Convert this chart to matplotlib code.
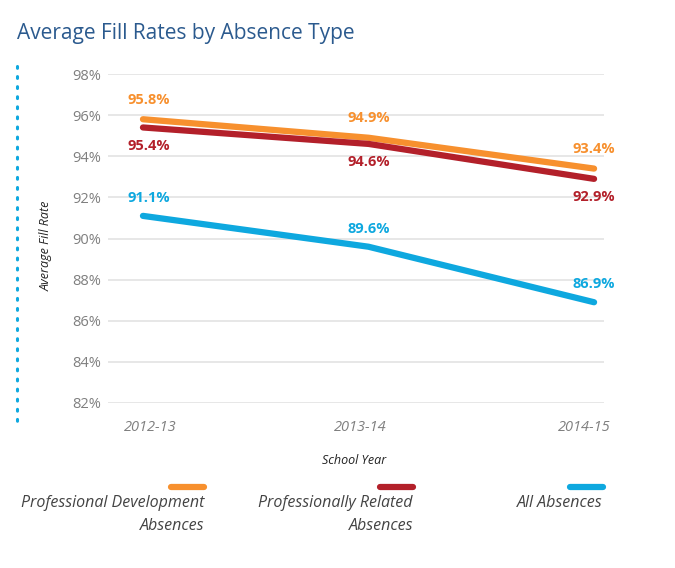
import matplotlib.pyplot as plt
from matplotlib.lines import Line2D
from matplotlib.transforms import ScaledTranslation

# data
years = ["2012-13", "2013-14", "2014-15"]
prof_dev = [95.8, 94.9, 93.4]
prof_rel = [95.4, 94.6, 92.9]
all_abs = [91.1, 89.6, 86.9]
y_ticks = [82, 84, 86, 88, 90, 92, 94, 96, 98]

ORANGE = "#F7902E"
RED = "#B3202A"
BLUE = "#0EA8DF"
TITLE = "#2B5A8E"
GRAY = "#7F7F7F"

plt.rcParams['font.family'] = ['Open Sans', 'DejaVu Sans']

fig = plt.figure(figsize=(6.75, 5.68), dpi=100)
ax = fig.add_axes([108 / 675, 1 - 403 / 568, (604 - 108) / 675, (403 - 74) / 568])

x = list(range(len(years)))
ax.plot(x, prof_dev, color=ORANGE, lw=4.5, solid_capstyle='round', zorder=3)
ax.plot(x, prof_rel, color=RED, lw=4.5, solid_capstyle='round', zorder=3)
ax.plot(x, all_abs, color=BLUE, lw=4.5, solid_capstyle='round', zorder=3)

# data labels (first column sits a little right of its point)
dx = [4, 0, 0]
for i in x:
    ax.annotate(f"{prof_dev[i]}%", (i, prof_dev[i]), xytext=(dx[i], 14), textcoords='offset points',
                ha='center', va='center', color=ORANGE, fontsize=10.5, fontweight='bold')
    ax.annotate(f"{prof_rel[i]}%", (i, prof_rel[i]), xytext=(dx[i], -13), textcoords='offset points',
                ha='center', va='center', color=RED, fontsize=10.5, fontweight='bold')
    ax.annotate(f"{all_abs[i]}%", (i, all_abs[i]), xytext=(dx[i], 13), textcoords='offset points',
                ha='center', va='center', color=BLUE, fontsize=10.5, fontweight='bold')

ax.set_xlim(-0.155, 2.044)
ax.set_ylim(82, 98)
ax.set_yticks(y_ticks)
ax.set_yticklabels([f"{t}%" for t in y_ticks], color=GRAY, fontsize=10.5)
ax.set_xticks(x)
ax.set_xticklabels(years, color=GRAY, fontsize=10.5, style='italic')
ax.tick_params(length=0, axis='y', pad=5)
ax.tick_params(length=0, axis='x', pad=12)
# nudge the year labels like in the original
for lab, off in zip(ax.get_xticklabels(), [7, -8, -10]):
    lab.set_transform(lab.get_transform() + ScaledTranslation(off / 100, 0, fig.dpi_scale_trans))
ax.grid(axis='y', color='#E3E3E3', lw=1.2)
ax.set_axisbelow(True)
for s in ax.spines.values():
    s.set_visible(False)

fig.text(46 / 675, 1 - 246 / 568, "Average Fill Rate", fontsize=9, style='italic',
         color='#222222', rotation=90, ha='center', va='center')
fig.text(354 / 675, 1 - 461 / 568, "School Year", fontsize=9, style='italic',
         color='#222222', ha='center', va='center')

fig.text(17 / 675, 1 - 33 / 568, "Average Fill Rates by Absence Type", fontsize=15,
         color=TITLE, ha='left', va='center')

# dotted rule on the left
fig.add_artist(Line2D([17 / 675, 17 / 675], [1 - 66 / 568, 1 - 428 / 568], color=BLUE,
                      lw=2.2, linestyle=(0, (0.6, 2.7)), dash_capstyle='round'))

# legend drawn by hand
legend = [("Professional Development\nAbsences", ORANGE, 171, 204),
          ("Professionally Related\nAbsences", RED, 380, 413),
          ("All Absences", BLUE, 570, 603)]
for label, col, x0, x1 in legend:
    fig.add_artist(Line2D([x0 / 675, x1 / 675], [1 - 487 / 568, 1 - 487 / 568], color=col,
                          lw=4.5, solid_capstyle='round'))
    fig.text(x1 / 675, 1 - 495 / 568, label, fontsize=11.5, style='italic', color='#444444',
             ha='right', va='top', linespacing=1.55)

fig.savefig("out.png", dpi=100, facecolor='white')
